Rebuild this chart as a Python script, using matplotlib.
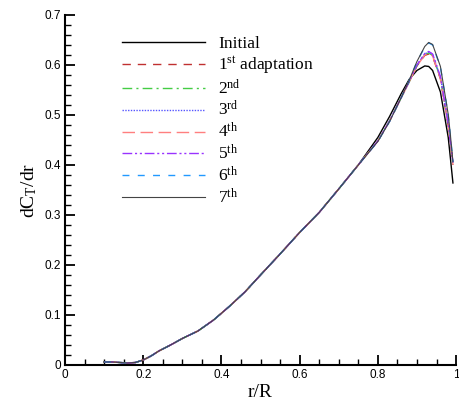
import numpy as np
import matplotlib
matplotlib.use("Agg")
import matplotlib.pyplot as plt
from matplotlib.ticker import MultipleLocator

plt.rcParams['font.family'] = ['Liberation Sans', 'DejaVu Sans']
plt.rcParams['mathtext.fontset'] = 'custom'
plt.rcParams['mathtext.rm'] = 'Liberation Serif'
plt.rcParams['mathtext.it'] = 'Liberation Serif'

# radial stations
r = [0.10, 0.12, 0.14, 0.16, 0.18, 0.20, 0.22, 0.24, 0.27, 0.30, 0.34, 0.38,
     0.42, 0.46, 0.50, 0.55, 0.60, 0.65, 0.70, 0.75,
     0.80, 0.83, 0.86, 0.88, 0.90, 0.92, 0.93, 0.94, 0.96, 0.98, 0.986, 0.992]

# inboard part, same for all runs
y_common = [0.006, 0.006, 0.005, 0.004, 0.005, 0.010, 0.018, 0.028, 0.040, 0.053,
            0.068, 0.090, 0.117, 0.146, 0.180, 0.222, 0.265, 0.305, 0.352, 0.400]

# tip region per run
tail_initial = [0.455, 0.497, 0.543, 0.571, 0.589, 0.598, 0.597, 0.589, 0.546, 0.455, 0.410, 0.364]
tail_1 = [0.448, 0.488, 0.535, 0.566, 0.598, 0.619, 0.622, 0.617, 0.572, 0.478, 0.440, 0.400]
tail_2 = [0.448, 0.488, 0.535, 0.566, 0.599, 0.621, 0.624, 0.619, 0.574, 0.480, 0.442, 0.402]
tail_3 = [0.448, 0.488, 0.535, 0.567, 0.600, 0.622, 0.626, 0.621, 0.576, 0.482, 0.444, 0.404]
tail_4 = [0.448, 0.488, 0.535, 0.566, 0.598, 0.620, 0.623, 0.618, 0.573, 0.479, 0.441, 0.401]
tail_5 = [0.448, 0.488, 0.535, 0.567, 0.600, 0.623, 0.627, 0.622, 0.577, 0.483, 0.445, 0.405]
tail_6 = [0.447, 0.487, 0.535, 0.569, 0.606, 0.636, 0.644, 0.640, 0.596, 0.500, 0.455, 0.406]
tail_7 = [0.447, 0.487, 0.535, 0.569, 0.607, 0.637, 0.645, 0.641, 0.597, 0.501, 0.456, 0.406]

labels = ['Initial', r'1$^{\mathrm{st}}$ adaptation', r'2$^{\mathrm{nd}}$', r'3$^{\mathrm{rd}}$',
          r'4$^{\mathrm{th}}$', r'5$^{\mathrm{th}}$', r'6$^{\mathrm{th}}$', r'7$^{\mathrm{th}}$']
tails = [tail_initial, tail_1, tail_2, tail_3, tail_4, tail_5, tail_6, tail_7]
colors = ['black', '#c03030', '#44cc44', '#5555ff', '#ff7f7f', '#9933ff', '#2299ff', '#444444']
styles = ['-', (0, (6, 5)), (0, (7, 3, 1.5, 3)), (0, (1, 1)), (0, (9, 4)),
          (0, (7, 2, 1.5, 2, 1.5, 2)), (0, (5, 6)), '-']
widths = [1.0, 1.0, 1.0, 1.0, 1.0, 1.0, 1.0, 0.8]

x_ticks = [0, 0.2, 0.4, 0.6, 0.8, 1.0]
x_ticklabels = ['0', '0.2', '0.4', '0.6', '0.8', '1']
y_ticks = [0, 0.1, 0.2, 0.3, 0.4, 0.5, 0.6, 0.7]
y_ticklabels = ['0', '0.1', '0.2', '0.3', '0.4', '0.5', '0.6', '0.7']

fig = plt.figure(figsize=(4.59, 4.08), dpi=100)
ax = fig.add_axes([0.1416, 0.1054, 0.852, 0.858])

for tail, lab, c, ls, lw in zip(tails, labels, colors, styles, widths):
    ax.plot(r, y_common + tail, color=c, linestyle=ls, linewidth=lw, label=lab)

ax.set_xticks(x_ticks, x_ticklabels)
ax.set_yticks(y_ticks, y_ticklabels)
ax.xaxis.set_minor_locator(MultipleLocator(0.05))
ax.yaxis.set_minor_locator(MultipleLocator(0.02))
ax.set_xlim(0, 1)
ax.set_ylim(0, 0.7)
ax.tick_params(which='major', direction='in', length=7, width=1.3, labelsize=8.5, pad=3)
ax.tick_params(which='minor', direction='in', length=4, width=1.0)
ax.spines['top'].set_visible(False)
ax.spines['right'].set_visible(False)
ax.spines['left'].set_linewidth(1.5)
ax.spines['bottom'].set_linewidth(1.5)

ax.set_xlabel('r/R', family='Liberation Serif', fontsize=14, labelpad=2)
ax.set_ylabel(r'dC$_{\mathrm{T}}$/dr', family='Liberation Serif', fontsize=14, labelpad=4)

leg = ax.legend(loc='upper left', bbox_to_anchor=(0.105, 0.985), frameon=False,
                handlelength=4.8, labelspacing=0.15, handletextpad=0.75,
                prop={'family': 'Liberation Serif', 'size': 12.5})

fig.savefig('out.png', dpi=100)
